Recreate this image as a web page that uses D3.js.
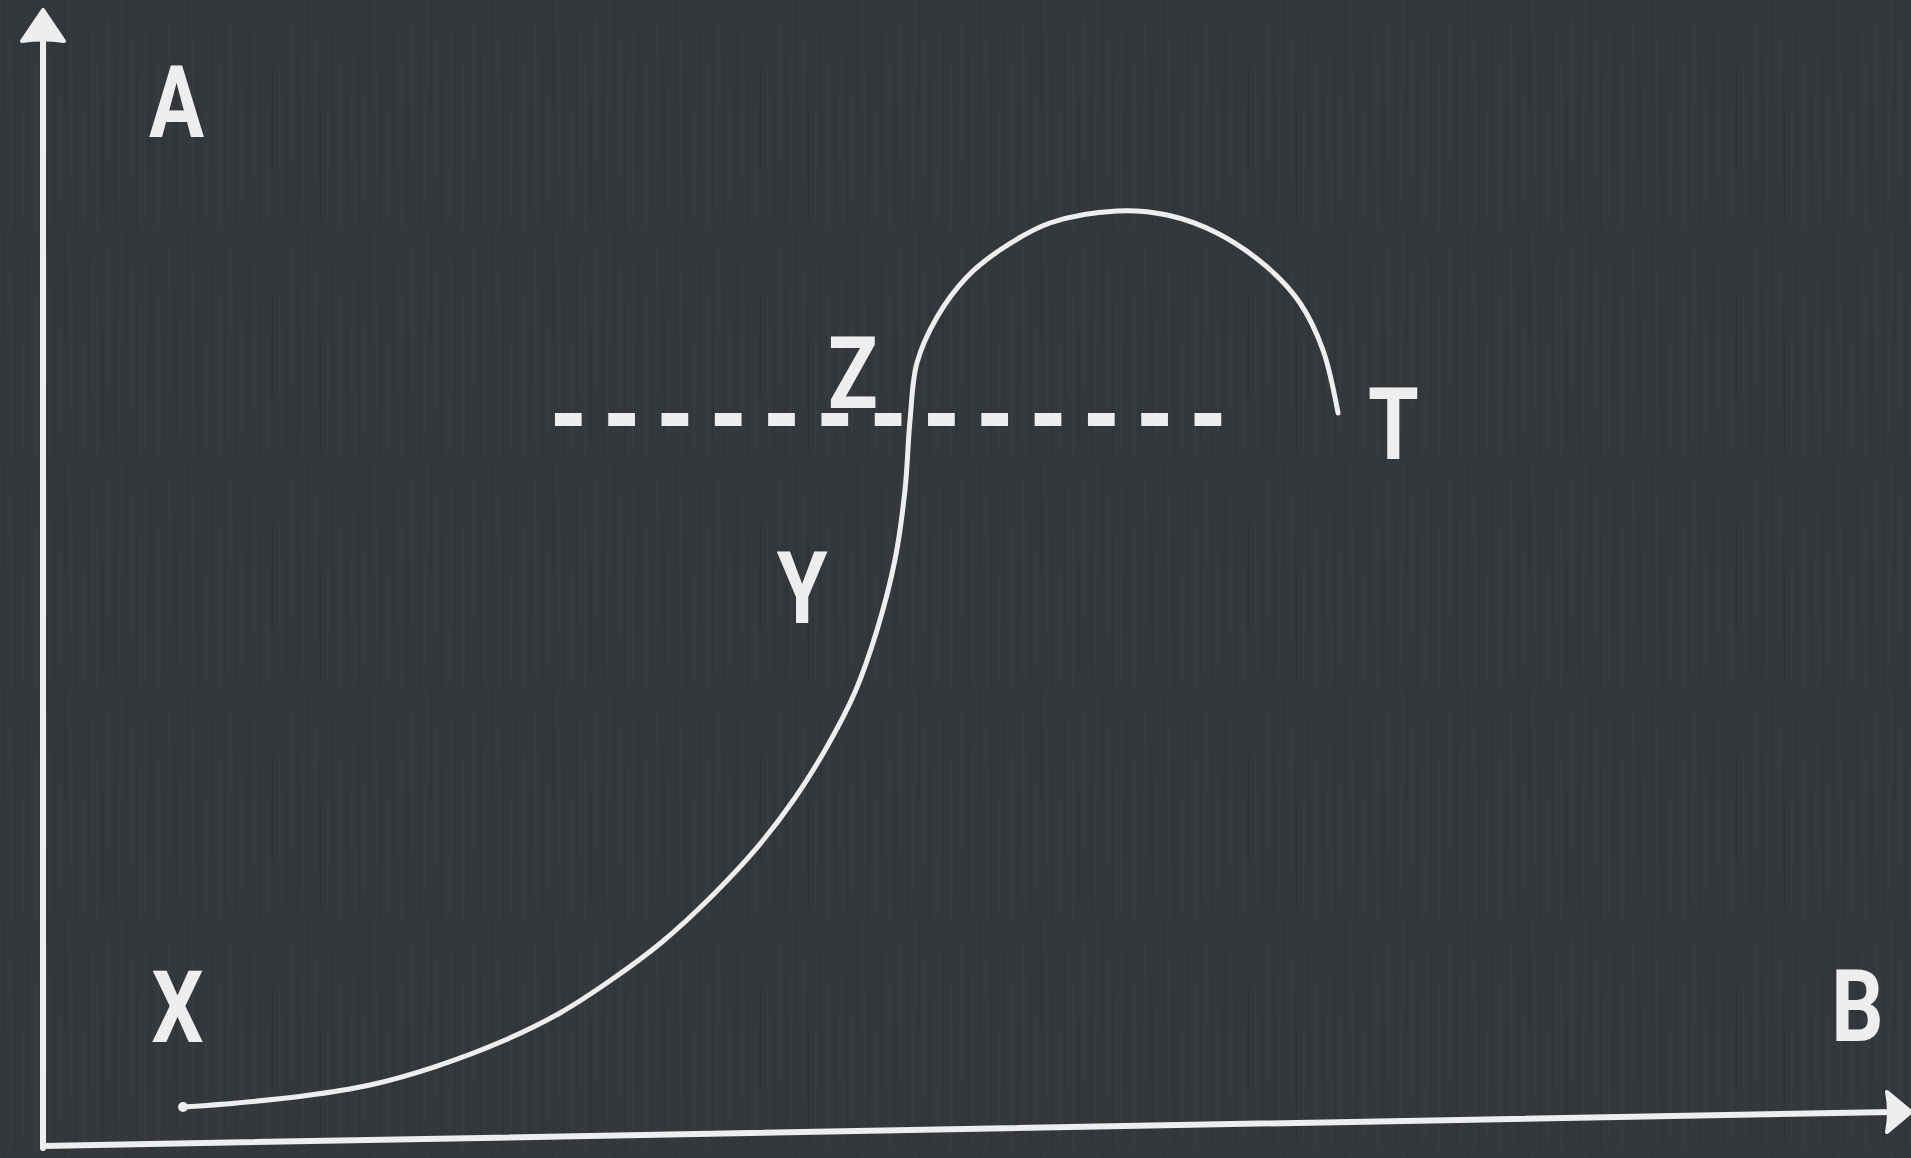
<!DOCTYPE html>
<html>
<head>
<meta charset="utf-8">
<script src="https://cdn.jsdelivr.net/npm/d3@7"></script>
<style>
  html, body { margin: 0; padding: 0; background: #34383c; overflow: hidden; }
  svg { display: block; }
  .lbl { font-family: "Roboto", "Liberation Sans", sans-serif; font-weight: 700; fill: #eeeeee; }
</style>
</head>
<body>
<svg id="chart"></svg>
<script>
// curve, in chart units (0..100 on both axes)
var curveX = [7.51, 10.40, 13.94, 17.53, 21.13, 24.66, 27.72, 30.46, 33.19, 35.76, 38.18, 40.32, 42.09, 43.54, 44.72, 45.68, 46.22, 46.49, 46.86, 47.94, 49.54, 51.31, 53.99, 57.59, 60.27, 62.95, 65.63, 67.40, 68.63, 69.44];
var curveY = [3.43, 3.79, 4.40, 5.37, 7.04, 9.24, 11.71, 14.61, 17.96, 21.83, 26.06, 30.63, 35.30, 39.96, 45.42, 51.58, 57.75, 63.91, 68.93, 72.98, 76.50, 78.87, 81.25, 82.31, 81.95, 80.37, 77.38, 74.21, 70.07, 64.52];

// dashed level line
var refLevel = 63.95;
var refRange = [27.45, 63.2];

// axis ends (the bottom axis is drawn by hand, rises a little to the right)
var axisXEnd = [100, 3];
var axisYEnd = [0, 100];

// labels
var labelText = ["A", "X", "B", "Z", "Y", "T"];
var labelX = [7.16, 7.21, 97.29, 43.43, 40.70, 72.41];
var labelY = [88.82, 9.15, 9.24, 64.96, 46.04, 60.48];

var W = 1911, H = 1158;
var ink = "#eeeeee";

var svg = d3.select("#chart").attr("width", W).attr("height", H);

// faint vertical chalkboard texture
var stripes = [3, 9, 14, 22, 27, 35, 41, 46, 53, 58];
var pat = svg.append("defs").append("pattern")
  .attr("id", "tex").attr("patternUnits", "userSpaceOnUse")
  .attr("width", 61).attr("height", 230);
pat.append("rect").attr("width", 61).attr("height", 230).attr("fill", "#34383c");
stripes.forEach(function(s, i) {
  pat.append("rect").attr("x", s).attr("y", (i * 37) % 120).attr("width", 2).attr("height", 110 + (i % 3) * 30)
    .attr("fill", i % 2 ? "#383c40" : "#303438");
});
svg.append("rect").attr("width", W).attr("height", H).attr("fill", "url(#tex)");

var x = d3.scaleLinear().domain([0, 100]).range([43, 1908]);
var y = d3.scaleLinear().domain([0, 100]).range([1146, 10]);

var g = svg.append("g");

// y axis
g.append("line")
  .attr("x1", x(0)).attr("y1", y(0) + 2)
  .attr("x2", x(axisYEnd[0])).attr("y2", y(axisYEnd[1]) + 20)
  .attr("stroke", ink).attr("stroke-width", 6).attr("stroke-linecap", "round");
var tipY = [x(axisYEnd[0]), y(axisYEnd[1])];
g.append("path")
  .attr("d", "M" + tipY[0] + "," + tipY[1] + " L" + (tipY[0] + 21) + "," + (tipY[1] + 31) +
    " Q" + tipY[0] + "," + (tipY[1] + 28) + " " + (tipY[0] - 21) + "," + (tipY[1] + 31) + " Z")
  .attr("fill", ink).attr("stroke", ink).attr("stroke-width", 4).attr("stroke-linejoin", "round");

// x axis
g.append("line")
  .attr("x1", x(0)).attr("y1", y(0))
  .attr("x2", x(axisXEnd[0]) - 15).attr("y2", y(axisXEnd[1]))
  .attr("stroke", ink).attr("stroke-width", 6).attr("stroke-linecap", "round");
var tipX = [x(axisXEnd[0]) + 3, y(axisXEnd[1])];
g.append("path")
  .attr("d", "M" + tipX[0] + "," + tipX[1] + " L" + (tipX[0] - 24) + "," + (tipX[1] + 20) +
    " Q" + (tipX[0] - 20) + "," + tipX[1] + " " + (tipX[0] - 24) + "," + (tipX[1] - 20) + " Z")
  .attr("fill", ink).attr("stroke", ink).attr("stroke-width", 4).attr("stroke-linejoin", "round");

// dashed level
g.append("line")
  .attr("x1", x(refRange[0])).attr("x2", x(refRange[1]))
  .attr("y1", y(refLevel)).attr("y2", y(refLevel))
  .attr("stroke", ink).attr("stroke-width", 13)
  .attr("stroke-dasharray", "26.7 26.6");

// the curve
var pts = curveX.map(function(v, i) { return [v, curveY[i]]; });
var line = d3.line()
  .x(function(d) { return x(d[0]); })
  .y(function(d) { return y(d[1]); })
  .curve(d3.curveCatmullRom.alpha(0.5));
g.append("path").datum(pts)
  .attr("d", line)
  .attr("fill", "none").attr("stroke", ink)
  .attr("stroke-width", 5).attr("stroke-linecap", "round");
g.append("circle")
  .attr("cx", x(curveX[0])).attr("cy", y(curveY[0])).attr("r", 5)
  .attr("fill", ink);

// labels (narrowed bold letters)
g.selectAll(".lbl").data(labelText).enter().append("text")
  .attr("class", "lbl")
  .attr("transform", function(d, i) {
    return "translate(" + x(labelX[i]) + "," + y(labelY[i]) + ") scale(0.82,1)";
  })
  .attr("text-anchor", "middle")
  .attr("font-size", 100)
  .text(function(d) { return d; });
</script>
</body>
</html>
